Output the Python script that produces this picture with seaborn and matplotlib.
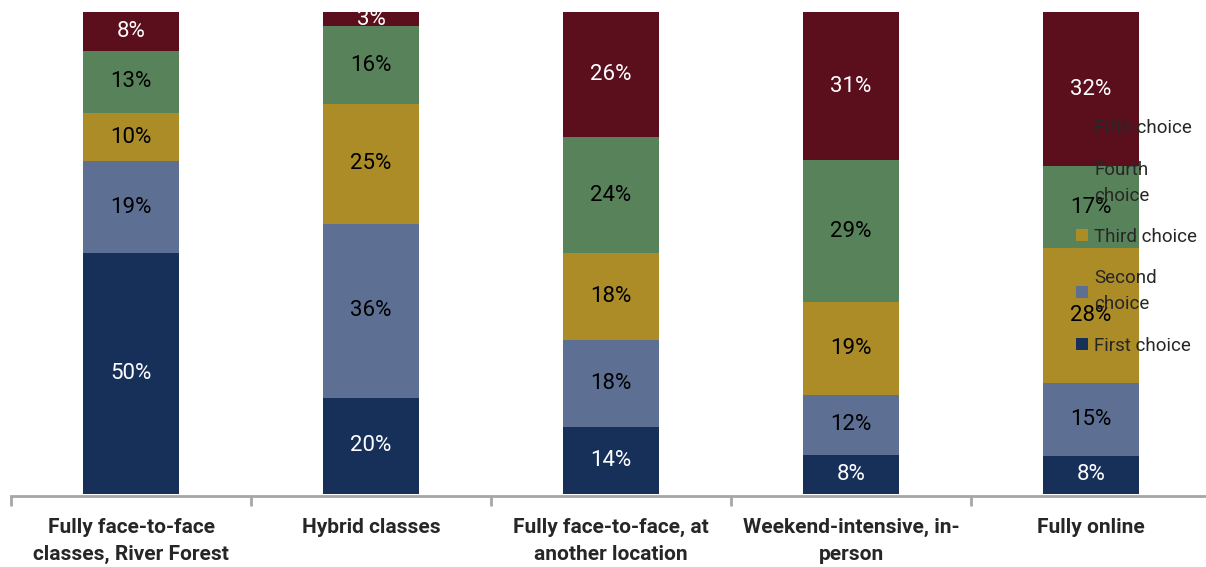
import numpy as np
import pandas as pd
import seaborn as sns
import matplotlib.pyplot as plt
from matplotlib.patches import Patch

# Survey: preferred class format, share of respondents per ranking
categories = [
    "Fully face-to-face\nclasses, River Forest",
    "Hybrid classes",
    "Fully face-to-face, at\nanother location",
    "Weekend-intensive, in-\nperson",
    "Fully online",
]
series = ["First choice", "Second choice", "Third choice", "Fourth choice", "Fifth choice"]
legend_labels = ["First choice", "Second\nchoice", "Third choice", "Fourth\nchoice", "Fifth choice"]

first_choice = [50, 20, 14, 8.2, 8]
second_choice = [19, 36, 18, 12.4, 15]
third_choice = [10, 25, 18, 19.2, 28]
fourth_choice = [13, 16, 24, 29.4, 17]
fifth_choice = [8, 3, 26, 30.8, 32]

colors = ["#17305A", "#5E6F94", "#AB8C26", "#58835A", "#5B0F1D"]
text_colors = ["white", "black", "black", "black", "white"]

sns.set_style("white")
plt.rcParams["font.family"] = ["Roboto", "DejaVu Sans"]

values = np.array([first_choice, second_choice, third_choice, fourth_choice, fifth_choice])
cum = values.cumsum(axis=0)

rows = []
for i, s in enumerate(series):
    for j, c in enumerate(categories):
        rows.append({"category": c, "series": s, "value": values[i, j],
                     "top": cum[i, j], "bottom": cum[i, j] - values[i, j]})
df = pd.DataFrame(rows)

fig = plt.figure(figsize=(12.06, 5.67), dpi=100)
ax = fig.add_axes([11 / 1206, 71 / 567, 1200 / 1206, 484 / 567])

# stacked bars: draw cumulative totals from the top series down
for i in reversed(range(len(series))):
    sub = df[df["series"] == series[i]]
    sns.barplot(data=sub, x="category", y="top", color=colors[i], width=0.4,
                saturation=1, linewidth=0, order=categories, ax=ax)

for i in range(len(series)):
    sub = df[df["series"] == series[i]].reset_index(drop=True)
    for j, r in sub.iterrows():
        ax.text(j, (r["top"] + r["bottom"]) / 2, f"{r['value']:.0f}%",
                ha="center", va="center", fontsize=16, color=text_colors[i])

ax.set_ylim(-0.4, 100)
ax.set_xlim(-0.5, 4.5)
ax.set_yticks([])
ax.set_xlabel("")
ax.set_ylabel("")
for side in ["top", "right", "left"]:
    ax.spines[side].set_visible(False)
ax.spines["bottom"].set_color("#A6A6A6")
ax.spines["bottom"].set_linewidth(2)

ax.set_xticks(range(len(categories)))
ax.set_xticklabels(categories, fontsize=15, fontweight="bold")
for lbl in ax.get_xticklabels():
    lbl.set_linespacing(1.5)
ax.set_xticks(np.arange(-0.5, 5, 1), minor=True)
ax.tick_params(axis="x", which="major", bottom=True, length=0, pad=16)
ax.tick_params(axis="x", which="minor", bottom=True, length=7, width=2,
               color="#A6A6A6", direction="out")

handles = [Patch(facecolor=colors[i], edgecolor="none") for i in reversed(range(len(series)))]
labels = [legend_labels[i] for i in reversed(range(len(series)))]
leg = ax.legend(handles, labels, loc="center left", frameon=False, fontsize=13.5,
                bbox_to_anchor=(1076 / 1206, 1 - 237 / 567), bbox_transform=fig.transFigure,
                handlelength=0.62, handleheight=0.62, handletextpad=0.35,
                labelspacing=1.25, borderpad=0, borderaxespad=0)
for t in leg.get_texts():
    t.set_linespacing(1.55)

fig.savefig("out.png", dpi=100)
